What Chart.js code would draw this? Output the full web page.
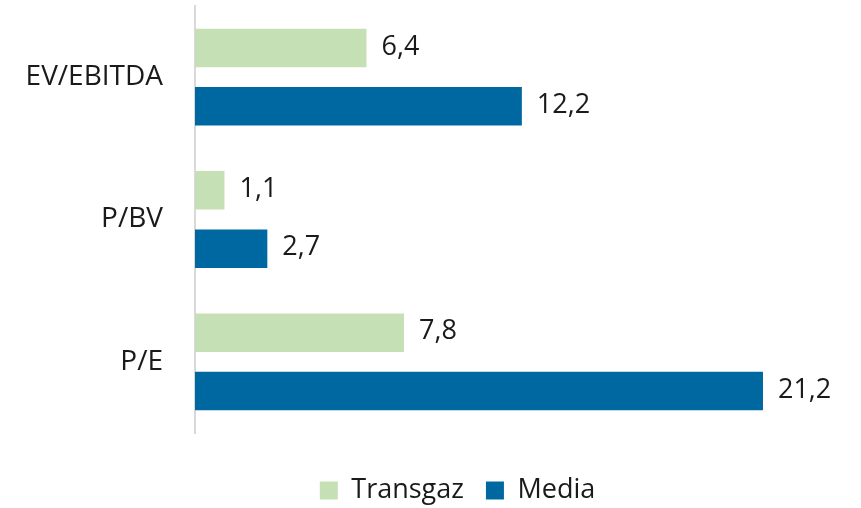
<!DOCTYPE html>
<html>
<head>
<meta charset="utf-8">
<script src="https://cdn.jsdelivr.net/npm/chart.js@4"></script>
<style>
  html, body { margin: 0; padding: 0; background: #fff; }
  #wrap { width: 861px; height: 508px; }
</style>
</head>
<body>
<div id="wrap"><canvas id="multiplesChart" width="861" height="508"></canvas></div>
<script>
// Valuation multiples: Transgaz vs media
const categories = ['EV/EBITDA', 'P/BV', 'P/E'];
const transgazValues = [6.4, 1.1, 7.8];
const mediaValues = [12.2, 2.7, 21.2];

const FONT = '"Open Sans", "Noto Sans", sans-serif';

// draws the value next to the end of each bar
const valueLabels = {
  id: 'valueLabels',
  afterLayout(chart) {
    // legend is centred a bit right of the canvas middle in the original
    chart.legend.left += 77;
  },
  afterDatasetsDraw(chart) {
    const ctx = chart.ctx;
    ctx.save();
    ctx.font = '27px ' + FONT;
    ctx.fillStyle = '#1a1a1a';
    ctx.textAlign = 'left';
    ctx.textBaseline = 'middle';
    chart.data.datasets.forEach((ds, i) => {
      chart.getDatasetMeta(i).data.forEach((bar, j) => {
        const txt = ds.data[j].toFixed(1).replace('.', ',');
        ctx.fillText(txt, bar.x + 15, bar.y - 1);
      });
    });
    ctx.restore();
  }
};

new Chart(document.getElementById('multiplesChart'), {
  type: 'bar',
  data: {
    labels: categories,
    datasets: [
      {
        label: 'Transgaz',
        data: transgazValues,
        backgroundColor: '#c5e0b4',
        barPercentage: 0.66,
        categoryPercentage: 0.82
      },
      {
        label: 'Media',
        data: mediaValues,
        backgroundColor: '#0068a0',
        barPercentage: 0.66,
        categoryPercentage: 0.82
      }
    ]
  },
  options: {
    indexAxis: 'y',
    responsive: false,
    animation: false,
    layout: {
      padding: { top: 6, right: 23, bottom: -6, left: 0 }
    },
    plugins: {
      legend: {
        display: true,
        position: 'bottom',
        // empty title only pushes the legend row down
        title: {
          display: true,
          text: ' ',
          font: { size: 10 },
          padding: { top: 10, bottom: 0 }
        },
        labels: {
          boxWidth: 18,
          boxHeight: 18,
          padding: 22,
          color: '#1a1a1a',
          font: { family: FONT, size: 27 }
        }
      },
      tooltip: { enabled: false }
    },
    scales: {
      x: {
        display: false,
        min: 0,
        max: 24
      },
      y: {
        afterFit(scale) {
          scale.width = 195;
          scale.paddingTop = 0;
          scale.paddingBottom = 0;
        },
        grid: { display: false, drawTicks: false },
        border: { display: true, color: '#d9d9d9', width: 2 },
        ticks: {
          padding: 32,
          color: '#1a1a1a',
          font: { family: FONT, size: 28 }
        }
      }
    }
  },
  plugins: [valueLabels]
});
</script>
</body>
</html>
